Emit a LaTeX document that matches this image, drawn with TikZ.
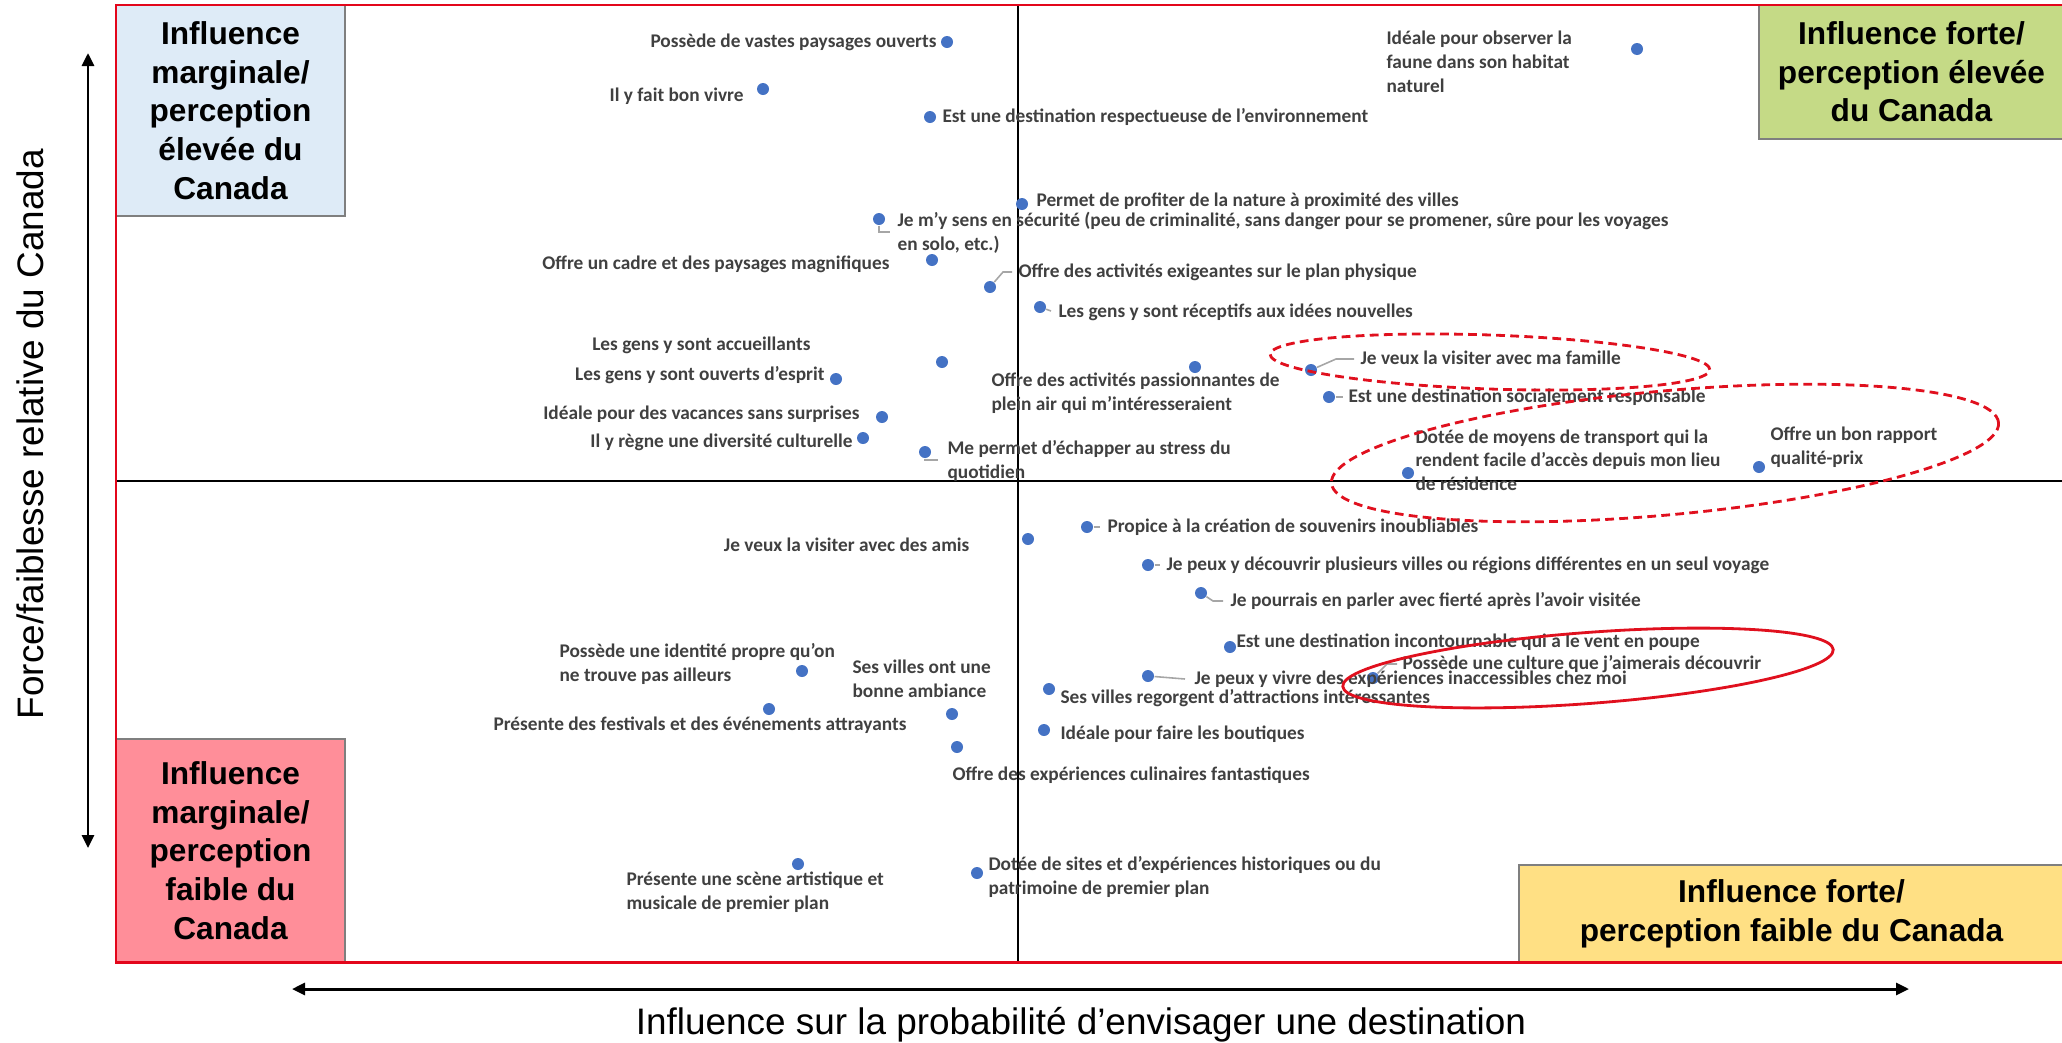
\documentclass[tikz,border=0pt]{standalone}
\usepackage{fontspec}
\setmainfont{Carlito}
\newfontfamily\arialfont{Liberation Sans}
\usepackage{xcolor}
\usepackage{tikz}
\usetikzlibrary{arrows.meta,shapes.geometric,positioning,calc}

\definecolor{frameRed}{HTML}{E3061B}
\definecolor{ringRed}{HTML}{E0101E}
\definecolor{dotBlue}{HTML}{4472C4}
\definecolor{lblGrey}{HTML}{404040}
\definecolor{leadGrey}{HTML}{A6A6A6}
\definecolor{boxGrey}{HTML}{7F7F7F}
\definecolor{tlBlue}{HTML}{DEEBF7}
\definecolor{trGreen}{HTML}{C5DA86}
\definecolor{blPink}{HTML}{FF8E99}
\definecolor{brYellow}{HTML}{FFE084}

\begin{document}
\begin{tikzpicture}[x=0.02cm, y=-0.02cm, semithick,
	font=\fontsize{11}{13.5}\selectfont\bfseries]

	\tikzstyle{attr dot}=[circle, fill=dotBlue, draw=none, inner sep=0pt,
	minimum size=0.24cm]
	\tikzstyle{attr lbl}=[text=lblGrey, inner sep=0pt, text height=1.6ex, text depth=.3ex]
	\tikzstyle{attr txt}=[text=lblGrey, inner sep=0pt, align=left]
	\tikzstyle{leader}=[draw=leadGrey, line width=0.9pt]
	\tikzstyle{quadrant}=[rectangle, draw=boxGrey, line width=1.2pt, inner sep=0pt,
	align=center, text=black, font=\arialfont\bfseries\fontsize{18}{22}\selectfont]
	\tikzstyle{ring}=[ellipse, draw=ringRed, line width=1.6pt, inner sep=0pt]
	\tikzstyle{axis}=[line width=1.7pt, {Triangle[length=0.26cm,width=0.24cm]}-{Triangle[length=0.26cm,width=0.24cm]}]

	\useasboundingbox (0,0) rectangle (2062,1042);

	%quadrant boxes
	\node[quadrant, fill=tlBlue, minimum width=4.58cm, minimum height=4.22cm]
	(qTL) at (230.5,110.5)
	{Influence\\marginale/\\perception\\élevée du\\Canada};

	\node[quadrant, fill=trGreen, minimum width=6.1cm, minimum height=2.68cm]
	(qTR) at (1911.5,72)
	{Influence forte/\\perception élevée\\du Canada};

	\node[quadrant, fill=blPink, minimum width=4.58cm, minimum height=4.46cm]
	(qBL) at (230.5,850.5)
	{Influence\\marginale/\\perception\\faible du\\Canada};

	\node[quadrant, fill=brYellow, minimum width=10.9cm, minimum height=1.94cm]
	(qBR) at (1791.5,913.5)
	{Influence forte/\\perception faible du Canada};

	%middle lines
	\draw[black, line width=0.6pt] (1018,5) -- (1018,962);
	\draw[black, line width=0.6pt] (116,481) -- (2066,481);

	%frame
	\draw[frameRed, line width=1.7pt] (116,5) rectangle (2066,962);

	%axes
	\coordinate (yTop) at (88,53);
	\coordinate (yBot) at (88,848);
	\coordinate (xLeft) at (292,989);
	\coordinate (xRight) at (1909,989);
	\draw[axis] (yTop) -- (yBot);
	\draw[axis] (xLeft) -- (xRight);

	\node[rotate=90, font=\arialfont\fontsize{21}{25}\selectfont]
	(yTitle) at (30,434) {Force/faiblesse relative du Canada};
	\node[font=\arialfont\fontsize{21}{25}\selectfont]
	(xTitle) at (1081,1025) {Influence sur la probabilité d’envisager une destination};

	%dots, upper half
	\node[attr dot] (dPaysages) at (947,42) {};
	\node[attr dot] (dVivre) at (763,89) {};
	\node[attr dot] (dEnviro) at (930,117) {};
	\node[attr dot] (dFaune) at (1637,49) {};
	\node[attr dot] (dNature) at (1022,204) {};
	\node[attr dot] (dSecurite) at (879,219) {};
	\node[attr dot] (dCadre) at (932,260) {};
	\node[attr dot] (dExigeant) at (990,287) {};
	\node[attr dot] (dReceptif) at (1040,307) {};
	\node[attr dot] (dAccueil) at (942,362) {};
	\node[attr dot] (dEsprit) at (836,379) {};
	\node[attr dot] (dPleinAir) at (1195,367) {};
	\node[attr dot] (dFamille) at (1311,370) {};
	\node[attr dot] (dSocial) at (1329,397) {};
	\node[attr dot] (dSurprise) at (882,417) {};
	\node[attr dot] (dDiversite) at (863,438) {};
	\node[attr dot] (dStress) at (925,452) {};
	\node[attr dot] (dTransport) at (1408,473) {};
	\node[attr dot] (dRapport) at (1759,467) {};

	%dots, lower half
	\node[attr dot] (dAmis) at (1028,539) {};
	\node[attr dot] (dSouvenir) at (1087,527) {};
	\node[attr dot] (dVilles) at (1148,565) {};
	\node[attr dot] (dFierte) at (1201,593) {};
	\node[attr dot] (dVent) at (1230,647) {};
	\node[attr dot] (dCulture) at (1373,678) {};
	\node[attr dot] (dVivreExp) at (1148,676) {};
	\node[attr dot] (dAttract) at (1049,689) {};
	\node[attr dot] (dBoutique) at (1044,730) {};
	\node[attr dot] (dCulinaire) at (957,747) {};
	\node[attr dot] (dAmbiance) at (952,714) {};
	\node[attr dot] (dIdentite) at (802,671) {};
	\node[attr dot] (dFestival) at (769,709) {};
	\node[attr dot] (dScene) at (798,864) {};
	\node[attr dot] (dHistorique) at (977,873) {};

	%labels, upper half
	\node[attr lbl, anchor=east] (lPaysages) at (937,42) {Possède de vastes paysages ouverts};
	\node[attr lbl, anchor=east] (lVivre) at (744,96) {Il y fait bon vivre};
	\node[attr lbl, anchor=west] (lEnviro) at (942,117) {Est une destination respectueuse de l’environnement};
	\node[attr txt, anchor=west] (lFaune) at (1386,62) {Idéale pour observer la\\faune dans son habitat\\naturel};
	\node[attr lbl, anchor=west] (lNature) at (1036,201) {Permet de profiter de la nature à proximité des villes};
	\node[attr txt, anchor=west] (lSecurite) at (897,233) {Je m’y sens en sécurité (peu de criminalité, sans danger pour se promener, sûre pour les voyages\\en solo, etc.)};
	\node[attr lbl, anchor=east] (lCadre) at (890,264) {Offre un cadre et des paysages magnifiques};
	\node[attr lbl, anchor=west] (lExigeant) at (1018,272) {Offre des activités exigeantes sur le plan physique};
	\node[attr lbl, anchor=west] (lReceptif) at (1058,312) {Les gens y sont réceptifs aux idées nouvelles};
	\node[attr lbl, anchor=east] (lAccueil) at (811,345) {Les gens y sont accueillants};
	\node[attr lbl, anchor=east] (lEsprit) at (825,375) {Les gens y sont ouverts d’esprit};
	\node[attr txt, anchor=west] (lPleinAir) at (991,393) {Offre des activités passionnantes de\\plein air qui m’intéresseraient};
	\node[attr lbl, anchor=west] (lFamille) at (1360,359) {Je veux la visiter avec ma famille};
	\node[attr lbl, anchor=west] (lSocial) at (1348,397) {Est une destination socialement responsable};
	\node[attr lbl, anchor=east] (lSurprise) at (860,414) {Idéale pour des vacances sans surprises};
	\node[attr lbl, anchor=east] (lDiversite) at (853,442) {Il y règne une diversité culturelle};
	\node[attr txt, anchor=west] (lStress) at (947,461) {Me permet d’échapper au stress du\\quotidien};
	\node[attr txt, anchor=west] (lTransport) at (1415,460) {Dotée de moyens de transport qui la\\rendent facile d’accès depuis mon lieu\\de résidence};
	\node[attr txt, anchor=west] (lRapport) at (1770,447) {Offre un bon rapport\\qualité-prix};

	%labels, lower half
	\node[attr lbl, anchor=east] (lAmis) at (970,546) {Je veux la visiter avec des amis};
	\node[attr lbl, anchor=west] (lSouvenir) at (1107,527) {Propice à la création de souvenirs inoubliables};
	\node[attr lbl, anchor=west] (lVilles) at (1166,565) {Je peux y découvrir plusieurs villes ou régions différentes en un seul voyage};
	\node[attr lbl, anchor=west] (lFierte) at (1230,601) {Je pourrais en parler avec fierté après l’avoir visitée};
	\node[attr lbl, anchor=west] (lVent) at (1236,642) {Est une destination incontournable qui a le vent en poupe};
	\node[attr lbl, anchor=west] (lCulture) at (1402,664) {Possède une culture que j’aimerais découvrir};
	\node[attr lbl, anchor=west] (lVivreExp) at (1194,679) {Je peux y vivre des expériences inaccessibles chez moi};
	\node[attr lbl, anchor=west] (lAttract) at (1060,698) {Ses villes regorgent d’attractions intéressantes};
	\node[attr lbl, anchor=west] (lBoutique) at (1060,734) {Idéale pour faire les boutiques};
	\node[attr lbl, anchor=west] (lCulinaire) at (952,775) {Offre des expériences culinaires fantastiques};
	\node[attr txt, anchor=west] (lAmbiance) at (852,679) {Ses villes ont une\\bonne ambiance};
	\node[attr txt, anchor=west] (lIdentite) at (559,664) {Possède une identité propre qu’on\\ne trouve pas ailleurs};
	\node[attr lbl, anchor=east] (lFestival) at (907,725) {Présente des festivals et des événements attrayants};
	\node[attr txt, anchor=west] (lScene) at (626,892) {Présente une scène artistique et\\musicale de premier plan};
	\node[attr txt, anchor=west] (lHistorique) at (988,877) {Dotée de sites et d’expériences historiques ou du\\patrimoine de premier plan};

	%leader lines
	\draw[leader] (dSecurite) |- ($(lSecurite.west)+(-7,-1)$);
	\draw[leader] (dExigeant) -- ($(lExigeant.west)+(-15,0)$) -- ($(lExigeant.west)+(-6,0)$);
	\draw[leader] (dReceptif) -- ($(lReceptif.west)+(-7,-1)$);
	\draw[leader] (dFamille) -- ($(lFamille.west)+(-24,0)$) -- ($(lFamille.west)+(-6,0)$);
	\draw[leader] (dSocial) -- ($(lSocial.west)+(-5,0)$);
	\draw[leader] (dStress) |- ($(lStress.west)+(-9,-1)$);
	\draw[leader] (dSouvenir) -- ($(lSouvenir.west)+(-7,0)$);
	\draw[leader] (dVilles) -- ($(lVilles.west)+(-6,0)$);
	\draw[leader] (dFierte) -- ($(lFierte.west)+(-17,0)$) -- ($(lFierte.west)+(-7,0)$);
	\draw[leader] (dCulture) -- ($(lCulture.west)+(-15,0)$) -- ($(lCulture.west)+(-5,0)$);
	\draw[leader] (dVivreExp) -- ($(lVivreExp.west)+(-9,0)$);

	%highlight rings
	\node[ring, dashed, dash pattern=on 5pt off 3pt, minimum width=8.8cm, minimum height=1.08cm, rotate=-2]
	(ringFamille) at (1490,362) {};
	\node[ring, dash pattern=on 5pt off 3pt, minimum width=13.4cm, minimum height=2.48cm, rotate=5.2]
	(ringAcces) at (1665,453) {};
	\node[ring, minimum width=9.84cm, minimum height=1.42cm, rotate=4.3]
	(ringCulture) at (1588,668) {};

\end{tikzpicture}
\end{document}
